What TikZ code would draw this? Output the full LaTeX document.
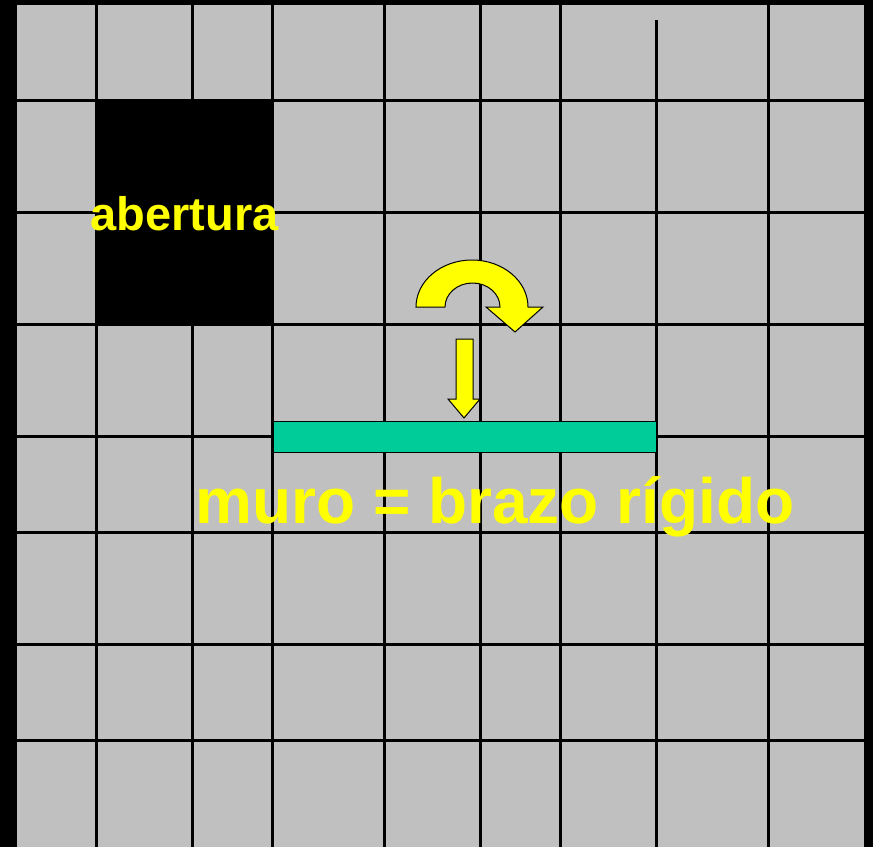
\documentclass[tikz,border=0pt]{standalone}
\usepackage{fontspec}
\setmainfont{Liberation Sans}
\usetikzlibrary{positioning}
\definecolor{panelgray}{HTML}{C0C0C0}
\definecolor{amarillo}{HTML}{FFFF00}
\definecolor{verdemuro}{HTML}{00CC99}
\tikzset{
    every picture/.style={line width=0.75pt},
    rejilla/.style={black,line width=3pt},
    flecha/.style={fill=amarillo,draw=black,line width=1pt,line join=miter},
    rotulo/.style={amarillo,inner sep=0pt,anchor=base,font=\bfseries}
}

\begin{document}
\begin{tikzpicture}[x=1pt,y=-1pt]
    \useasboundingbox (0,0) rectangle (873,847);
    % Background and panel
    \fill[black] (0,0) rectangle (873,847);
    \fill[panelgray] (17,5) rectangle (864,847);

    % Grid of blocks
    \foreach \gx in {96.5,192.5,272.5,384,480,560,768.5}
        \draw[rejilla] (\gx,5) -- (\gx,847);
    \draw[rejilla] (656,20) -- (656,847);
    \foreach \gy in {100.5,212,324,436,532.5,644,740.5}
        \draw[rejilla] (17,\gy) -- (864,\gy);

    % Opening
    \fill[black] (95,99) rectangle (274,325);
    \node[rotulo,font=\bfseries\fontsize{47}{47}\selectfont] (abertura)
        at (184.5,230) {abertura};

    % Wall
    \draw[fill=verdemuro,line width=1pt] (273,421) rectangle (656,452);

    % Rotation arrow
    \draw[flecha] (416,307) arc[start angle=180,end angle=360,x radius=56,y radius=47]
        -- (543,307) -- (515,332) -- (486,307) -- (500,307)
        arc[start angle=0,end angle=-180,x radius=27.5,y radius=24] -- cycle;

    % Load arrow
    \draw[flecha] (456,339) -- (473,339) -- (473,399) -- (480,399)
        -- (464,418) -- (448,399) -- (456,399) -- cycle;

    \node[rotulo,font=\bfseries\fontsize{64}{64}\selectfont] (muro)
        at (495,523) {muro = brazo rígido};
\end{tikzpicture}
\end{document}
